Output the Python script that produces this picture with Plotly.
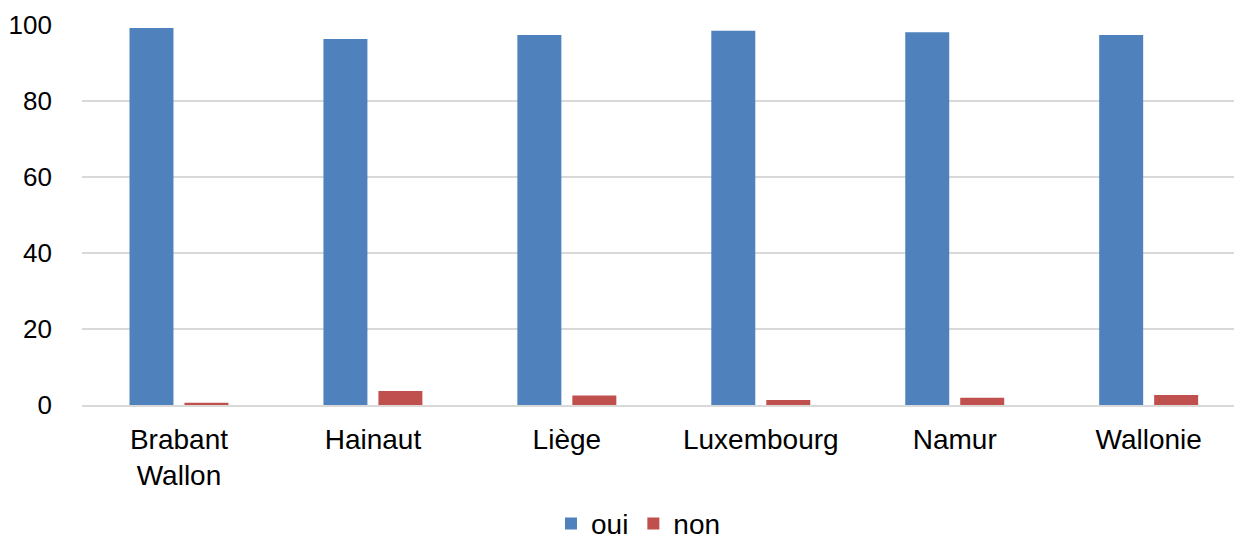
import plotly.graph_objects as go

provinces = ["Brabant<br>Wallon", "Hainaut", "Liège", "Luxembourg", "Namur", "Wallonie"]
oui = [99.2, 96.3, 97.4, 98.5, 98.1, 97.4]
non = [0.6, 3.7, 2.5, 1.3, 1.9, 2.6]
y_ticks = [0, 20, 40, 60, 80, 100]

FONT = "Liberation Sans, Arial, sans-serif"

fig = go.Figure()
fig.add_trace(go.Bar(name="oui", x=provinces, y=oui, marker_color="#4F81BD",
                     marker_line_width=0))
fig.add_trace(go.Bar(name="non", x=provinces, y=non, marker_color="#C0504D",
                     marker_line_width=0))

fig.update_layout(
    width=1234, height=541,
    margin=dict(l=82, r=0, t=25, b=136),
    paper_bgcolor="white", plot_bgcolor="white",
    barmode="group", bargap=0.433, bargroupgap=0.2,
    font=dict(family=FONT, size=26, color="#000000"),
    showlegend=True,
    legend=dict(orientation="h", xref="container", yref="container",
                x=0.4465, xanchor="left", y=0.032, yanchor="middle",
                font=dict(size=28), traceorder="normal", itemwidth=30),
    xaxis=dict(range=[-0.5, 5.44], showgrid=False, showline=True, linecolor="#d9d9d9",
               linewidth=2, ticks="", tickfont=dict(size=28), automargin=False,
               ticklabelstandoff=8),
    yaxis=dict(range=[0, 100], tickvals=y_ticks, showgrid=True, gridcolor="#d9d9d9",
               gridwidth=2, zeroline=False, showline=False, ticks="", automargin=False,
               ticklabelstandoff=29, tickfont=dict(size=26)),
)

fig.write_html("out.html")
